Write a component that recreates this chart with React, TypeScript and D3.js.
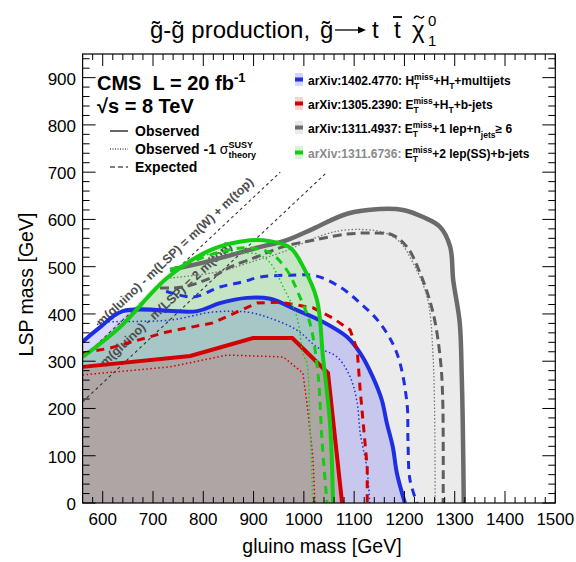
import React from 'react';
import * as d3 from 'd3';

type P = [number, number];

const xTicks = [600, 700, 800, 900, 1000, 1100, 1200, 1300, 1400, 1500];
const yTicks = [0, 100, 200, 300, 400, 500, 600, 700, 800, 900];

// arXiv:1311.4937 (gray)
const grayObs: P[] = [[734, 493], [760, 499], [819, 514], [907, 540], [966, 556], [1018, 580], [1086, 612], [1151, 622], [1197, 620], [1237, 605], [1271, 584], [1291, 542], [1297, 472], [1310, 381], [1314, 267], [1316, 169], [1318, 0]];
const grayExp: P[] = [[714, 455], [760, 457], [814, 476], [853, 499], [907, 521], [958, 542], [1018, 556], [1086, 569], [1151, 571], [1177, 567], [1205, 542], [1231, 487], [1257, 402], [1271, 309], [1276, 224], [1277, 0]];
const grayObsM1: P[] = [[734, 476], [828, 489], [907, 514], [958, 531], [1038, 567], [1086, 578], [1157, 573], [1191, 552], [1217, 508], [1245, 436], [1257, 309], [1261, 0]];

// arXiv:1402.4770 (blue)
const blueObs: P[] = [[560, 341], [595, 372], [640, 406], [788, 406], [833, 423], [887, 434], [933, 432], [986, 408], [1038, 383], [1086, 351], [1112, 317], [1137, 267], [1155, 218], [1165, 169], [1177, 118], [1185, 63], [1201, 0]];
const blueExp: P[] = [[726, 448], [780, 436], [833, 457], [879, 468], [913, 478], [973, 482], [1026, 480], [1072, 457], [1112, 423], [1151, 381], [1185, 317], [1205, 212], [1207, 133], [1211, 49], [1225, 0]];
const blueObsM1: P[] = [[589, 377], [595, 381], [734, 387], [819, 404], [887, 404], [933, 391], [986, 366], [1026, 330], [1066, 309], [1092, 267], [1106, 212], [1112, 148], [1125, 76], [1131, 0]];

// arXiv:1305.2390 (red)
const redObs: P[] = [[560, 288], [774, 311], [899, 349], [977, 349], [1048, 275], [1076, 0]];
const redExp: P[] = [[560, 317], [615, 328], [728, 362], [819, 381], [907, 423], [953, 425], [1018, 413], [1058, 391], [1092, 366], [1106, 324], [1112, 239], [1118, 169], [1126, 76], [1126, 0]];
const redObsM1: P[] = [[560, 271], [734, 288], [847, 313], [959, 309], [998, 275], [1006, 212], [1018, 97], [1022, 0]];

// arXiv:1311.6736 (green)
const greenObs: P[] = [[560, 309], [634, 372], [728, 476], [814, 535], [893, 556], [933, 554], [973, 540], [999, 499], [1026, 430], [1038, 309], [1052, 169], [1058, 0]];
const greenExp: P[] = [[734, 493], [833, 531], [887, 540], [933, 529], [966, 493], [992, 436], [1012, 381], [1028, 275], [1036, 133], [1046, 0]];
const greenObsM1: P[] = [[800, 524], [828, 529], [887, 529], [913, 525], [933, 508], [959, 457], [986, 394], [998, 317], [1006, 296], [1012, 169], [1018, 0]];

const mTop = 173;
const mW = 80;

const W = 576, H = 562;
const x = d3.scaleLinear().domain([560, 1500]).range([82.6, 555.3]);
const y = d3.scaleLinear().domain([0, 950]).range([503, 54]);

const FONT = "'Liberation Sans', Arial, Helvetica, sans-serif";

const smooth = d3.line<P>().x(d => x(d[0])).y(d => y(d[1])).curve(d3.curveCatmullRom.alpha(0.5));
const straight = d3.line<P>().x(d => x(d[0])).y(d => y(d[1]));

const BLUE = '#1e2fe0';
const RED = '#d20000';
const GREEN = '#14cc14';
const GRAY = '#6b6b6b';

type Seg = { t: string; shift?: number; size?: number; dx?: number; fill?: string; weight?: string };

function Rich({ x0, y0, segs, size, weight, fill }: { x0: number; y0: number; segs: Seg[]; size: number; weight?: string; fill?: string }) {
  let prev = 0;
  return (
    <text x={x0} y={y0} fontSize={size} fontWeight={weight || 'normal'} fontFamily={FONT} fill={fill || '#000'} style={{ whiteSpace: 'pre' }}>
      {segs.map((s, i) => {
        const sh = s.shift || 0;
        const dy = sh - prev;
        prev = sh;
        return (
          <tspan key={i} dy={dy} dx={s.dx || 0} fontSize={s.size || size} fill={s.fill} fontWeight={s.weight}>
            {s.t}
          </tspan>
        );
      })}
    </text>
  );
}

function fillPath(c: P[], extra: P[], curved = true) {
  const base = (curved ? smooth(c) : straight(c)) || '';
  return base + extra.map(p => `L${x(p[0])},${y(p[1])}`).join('') + 'Z';
}

export default function App() {
  const x0 = x(560), x1 = x(1500), y0 = y(0), y1 = y(950);
  const ticks: JSX.Element[] = [];
  for (let v = 560; v <= 1500; v += 20) {
    const major = v % 100 === 0;
    const L = major ? 12 : 6;
    ticks.push(<line key={'xb' + v} x1={x(v)} x2={x(v)} y1={y0} y2={y0 - L} stroke="#000" strokeWidth={1} />);
    ticks.push(<line key={'xt' + v} x1={x(v)} x2={x(v)} y1={y1} y2={y1 + L} stroke="#000" strokeWidth={1} />);
  }
  for (let v = 0; v <= 950; v += 20) {
    const major = v % 100 === 0;
    const L = major ? 13 : 7;
    ticks.push(<line key={'yl' + v} x1={x0} x2={x0 + L} y1={y(v)} y2={y(v)} stroke="#000" strokeWidth={1} />);
    ticks.push(<line key={'yr' + v} x1={x1} x2={x1 - L} y1={y(v)} y2={y(v)} stroke="#000" strokeWidth={1} />);
  }

  const ang = -Math.atan((y(0) - y(100)) / (x(660) - x(560))) * 180 / Math.PI;
  const rad = ang * Math.PI / 180;
  const off = 10;
  const nx = Math.sin(rad) * off, ny = -Math.cos(rad) * off;
  const diag1: P[] = [[560, 560 - mW - mTop], [mW + mTop + 700, 700]];
  const diag2: P[] = [[560, 560 - 2 * mTop], [2 * mTop + 700, 700]];
  const g1 = 610, g2 = 618;
  const a1 = [x(g1) + nx, y(g1 - mW - mTop) + ny];
  const a2 = [x(g2) + nx, y(g2 - 2 * mTop) + ny];

  const subT = (s = 8.5): Seg[] => [
    { t: 'T', size: s, shift: 3.5 },
    { t: 'miss', size: s, shift: -5, dx: -0.611 * s },
  ];

  const legR = [
    { fillC: 'rgba(0,0,255,0.17)', line: BLUE, segs: [{ t: 'arXiv:1402.4770: H' }, ...subT(), { t: '+H', shift: 0 }, { t: 'T', size: 8.5, shift: 3.5 }, { t: '+multijets', shift: 0 }] as Seg[] },
    { fillC: 'rgba(210,0,0,0.17)', line: RED, segs: [{ t: 'arXiv:1305.2390: E' }, ...subT(), { t: '+H', shift: 0 }, { t: 'T', size: 8.5, shift: 3.5 }, { t: '+b-jets', shift: 0 }] as Seg[] },
    { fillC: 'rgba(0,0,0,0.08)', line: GRAY, segs: [{ t: 'arXiv:1311.4937: E' }, ...subT(), { t: '+1 lep+n', shift: 0 }, { t: 'jets', size: 8.5, shift: 5 }, { t: '\u2265 6', shift: 0 }] as Seg[] },
    { fillC: 'rgba(0,200,0,0.17)', line: GREEN, segs: [{ t: 'arXiv:1311.6736: ', fill: '#8a8a8a' }, { t: 'E' }, ...subT(), { t: '+2 lep(SS)+b-jets', shift: 0 }] as Seg[] },
  ];
  const legRy = [85, 109, 133, 158];

  const ty = 38;

  return (
    <svg width={W} height={H} style={{ position: 'absolute', left: 0, top: 0, background: '#fff' }}>
      <defs>
        <clipPath id="plot">
          <rect x={x0} y={y1} width={x1 - x0} height={y0 - y1} />
        </clipPath>
      </defs>
      <rect x={0} y={0} width={W} height={H} fill="#fff" />
      <g clipPath="url(#plot)">
        <path d={fillPath(grayObs, [[560, 0], [560, 560 - mW - mTop]])} fill="rgba(0,0,0,0.08)" />
        <path d={fillPath(blueObs, [[560, 0]])} fill="rgba(0,0,255,0.15)" />
        <path d={fillPath(greenObs, [[560, 0]])} fill="rgba(0,200,0,0.16)" />
        <path d={fillPath(redObs, [[560, 0]], false)} fill="rgba(215,0,0,0.17)" />

        <path d={straight(diag1) || ''} stroke="#333" strokeWidth={1.1} strokeDasharray="3,3" fill="none" />
        <path d={straight(diag2) || ''} stroke="#333" strokeWidth={1.1} strokeDasharray="3,3" fill="none" />
        <text x={a1[0]} y={a1[1]} transform={`rotate(${ang},${a1[0]},${a1[1]})`} fontSize={12.5} fontWeight="bold" fontFamily={FONT} fill="#4d4d4d">
          m(gluino) - m(LSP) = m(W) + m(top)
        </text>
        <text x={a2[0]} y={a2[1]} transform={`rotate(${ang},${a2[0]},${a2[1]})`} fontSize={12.5} fontWeight="bold" fontFamily={FONT} fill="#4d4d4d">
          m(gluino) - m(LSP) = 2 m(top)
        </text>

        <path d={smooth(grayObsM1) || ''} stroke="#777" strokeWidth={1.3} strokeDasharray="1.5,2" fill="none" />
        <path d={smooth(grayExp) || ''} stroke="#5e5e5e" strokeWidth={3} strokeDasharray="9,5" fill="none" />
        <path d={smooth(grayObs) || ''} stroke={GRAY} strokeWidth={4.5} fill="none" />

        <path d={smooth(blueObsM1) || ''} stroke={BLUE} strokeWidth={1.5} strokeDasharray="1.5,2.5" fill="none" />
        <path d={smooth(blueExp) || ''} stroke={BLUE} strokeWidth={3} strokeDasharray="8,6" fill="none" />
        <path d={smooth(blueObs) || ''} stroke={BLUE} strokeWidth={4} fill="none" />

        <path d={straight(redObsM1) || ''} stroke={RED} strokeWidth={1.5} strokeDasharray="1.5,2.5" fill="none" />
        <path d={straight(redExp) || ''} stroke={RED} strokeWidth={3} strokeDasharray="8,6" fill="none" />
        <path d={straight(redObs) || ''} stroke={RED} strokeWidth={4} fill="none" />

        <path d={smooth(greenObsM1) || ''} stroke={GREEN} strokeWidth={1.5} strokeDasharray="1.5,2.5" fill="none" />
        <path d={smooth(greenExp) || ''} stroke={GREEN} strokeWidth={3} strokeDasharray="8,6" fill="none" />
        <path d={smooth(greenObs) || ''} stroke={GREEN} strokeWidth={4} fill="none" />
      </g>

      <rect x={x0} y={y1} width={x1 - x0} height={y0 - y1} fill="none" stroke="#000" strokeWidth={1.2} />
      {ticks}

      {xTicks.map(v => (
        <text key={'xl' + v} x={x(v)} y={525} textAnchor="middle" fontSize={17} fontFamily={FONT}>{v}</text>
      ))}
      {yTicks.map(v => (
        <text key={'yl' + v} x={76} y={y(v) + 7} textAnchor="end" fontSize={17} fontFamily={FONT}>{v}</text>
      ))}

      <text x={(x0 + x1) / 2 + 3} y={553} textAnchor="middle" fontSize={19.5} fontFamily={FONT}>gluino mass [GeV]</text>
      <text transform={`translate(33,${(y0 + y1) / 2 + 6}) rotate(-90)`} textAnchor="middle" fontSize={19.5} fontFamily={FONT}>LSP mass [GeV]</text>

      {/* title */}
      <g fontFamily={FONT} fontSize={24} fill="#000">
        <text x={150} y={ty}>{'g\u0303-g\u0303 production,'}</text>
        <text x={320} y={ty}>{'g\u0303'}</text>
        <line x1={335} x2={361} y1={ty - 8} y2={ty - 8} stroke="#000" strokeWidth={1.3} />
        <path d={`M366,${ty - 8}L358,${ty - 11.5}L358,${ty - 4.5}Z`} fill="#000" />
        <text x={372} y={ty}>t</text>
        <text x={394} y={ty}>t</text>
        <line x1={393} x2={402} y1={ty - 21} y2={ty - 21} stroke="#000" strokeWidth={1.8} />
        <text x={412} y={ty}>{'\u03C7'}</text>
        <path d={`M414,${ty - 19.5}c1.5,-2.5 3,-3 5,-1.5s3.5,1.5 5,-1`} fill="none" stroke="#000" strokeWidth={1.4} />
        <text x={428} y={ty - 12} fontSize={15}>0</text>
        <text x={428} y={ty + 8} fontSize={15}>1</text>
      </g>

      <Rich x0={97} y0={90} size={20} weight="bold" segs={[
        { t: 'CMS  L = 20 fb' },
        { t: '-1', size: 13, shift: -8 },
      ]} />
      <Rich x0={97} y0={113} size={20} weight="bold" segs={[{ t: '\u221As = 8 TeV' }]} />

      <line x1={110} x2={128} y1={131} y2={131} stroke="#000" strokeWidth={1.2} />
      <line x1={110} x2={128} y1={149} y2={149} stroke="#000" strokeWidth={1} strokeDasharray="1,1.5" />
      <line x1={110} x2={128} y1={167} y2={167} stroke="#555" strokeWidth={1.4} strokeDasharray="5,3" />
      <Rich x0={135} y0={136} size={14} weight="bold" segs={[{ t: 'Observed' }]} />
      <Rich x0={135} y0={154} size={14} weight="bold" segs={[
        { t: 'Observed -1 ' },
        { t: '\u03C3', weight: 'normal' },
        { t: 'SUSY', size: 9, shift: -6 },
        { t: 'theory', size: 9, shift: 4, dx: -24.5 },
      ]} />
      <Rich x0={135} y0={172} size={14} weight="bold" segs={[{ t: 'Expected' }]} />

      {legR.map((e, i) => (
        <g key={'lr' + i}>
          <rect x={295} y={legRy[i] - 12} width={8} height={13} fill={e.fillC} />
          <line x1={295} x2={303} y1={legRy[i] - 5.5} y2={legRy[i] - 5.5} stroke={e.line} strokeWidth={4} />
          <Rich x0={308} y0={legRy[i]} size={12} weight="bold" segs={e.segs} />
        </g>
      ))}
    </svg>
  );
}
